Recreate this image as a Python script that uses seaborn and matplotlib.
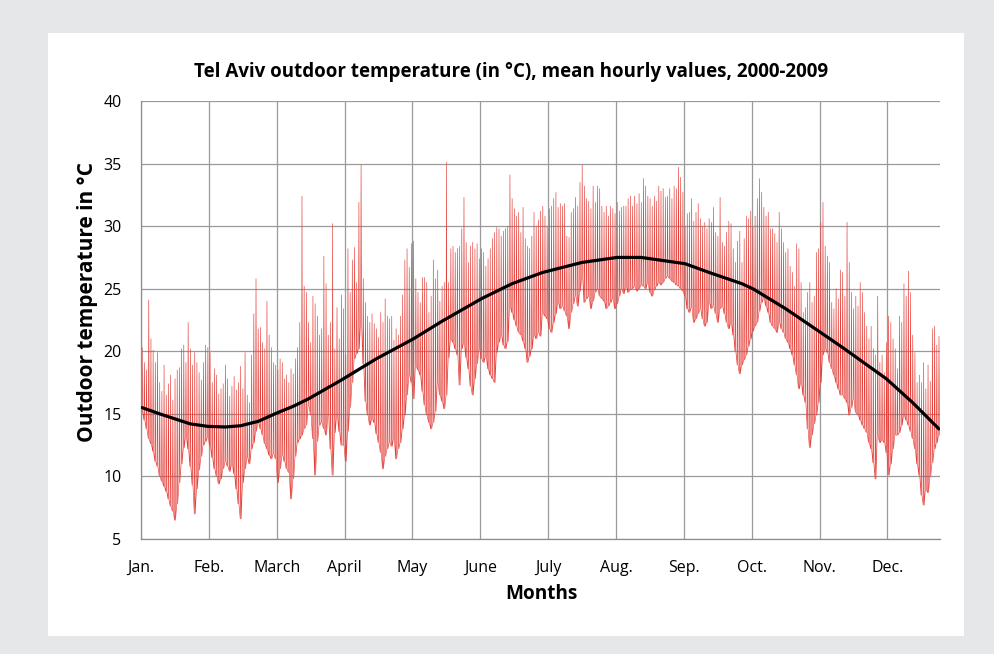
import numpy as np
import pandas as pd
import matplotlib
matplotlib.use('Agg')
import matplotlib.pyplot as plt
import seaborn as sns
from matplotlib.patches import Rectangle

sns.set_theme(style='white')
plt.rcParams['font.family'] = ['Open Sans', 'DejaVu Sans']
plt.rcParams['text.color'] = 'black'

MONTHS = ['Jan.', 'Feb.', 'March', 'April', 'May', 'June', 'July', 'Aug.', 'Sep.', 'Oct.', 'Nov.', 'Dec.']
MONTH_TICKS = [0, 744, 1488, 2232, 2976, 3720, 4464, 5208, 5952, 6696, 7440, 8184]
Y_TICKS = [5, 10, 15, 20, 25, 30, 35, 40]

# daily peaks (afternoon), Jan 1 .. Dec 31
daily_high = [
    20.3, 19.1, 18.5, 24.1, 21.0, 20.1, 19.1, 19.9, 17.5, 16.8, 18.9, 16.5, 17.4, 18.1, 16.1, 17.8,
    18.5, 18.7, 20.2, 20.5, 19.1, 22.3, 20.2, 18.9, 19.9, 19.1, 18.3, 17.7, 19.1, 20.5, 20.3, 19.9,
    17.5, 18.6, 18.1, 16.6, 17.0, 17.4, 18.9, 17.8, 16.4, 17.2, 18.0, 16.9, 17.5, 18.8,
    17.0, 19.9, 16.5, 15.9, 19.7, 23.0, 25.8, 21.8, 21.9, 20.7, 20.2, 24.0, 21.3, 20.3, 19.1, 18.9,
    18.5, 19.4, 19.1, 17.8, 18.1, 17.5, 18.6, 18.2, 19.4, 20.3, 22.3, 32.4, 25.2, 24.7, 22.3, 20.7,
    24.4, 23.8, 22.8, 21.3, 21.8, 27.6, 25.4, 21.3, 22.3, 30.2, 20.2, 23.5, 21.0, 24.5,
    23.4, 19.7, 28.2, 24.7, 27.3, 28.3, 25.5, 31.9, 34.9, 25.8, 23.9, 22.8, 22.3, 23.0, 22.2, 21.8,
    21.1, 23.1, 22.3, 24.2, 22.8, 22.6, 22.8, 20.9, 21.8, 21.3, 22.8, 24.5, 27.3, 28.2, 26.7, 28.6,
    28.8, 25.8, 24.7, 23.9, 25.9, 25.9, 25.5, 23.1, 24.4, 27.3, 25.8, 26.5, 24.0, 25.2,
    25.5, 35.1, 25.5, 28.2, 28.4, 27.9, 28.2, 28.4, 29.8, 32.3, 28.7, 27.1, 28.4, 28.7, 28.2, 28.6,
    27.4, 28.2, 27.9, 26.8, 27.4, 28.2, 29.0, 29.5, 29.9, 29.8, 29.2, 29.6, 29.8, 30.0, 34.1, 32.2,
    31.4, 30.8, 31.1, 29.5, 31.5, 29.0, 28.4, 28.2, 29.2, 31.1, 30.0, 30.5, 31.2,
    31.6, 30.8, 30.0, 31.4, 31.6, 32.2, 32.7, 31.5, 31.8, 31.6, 31.8, 29.2, 29.1, 31.1, 31.4, 32.3,
    31.6, 33.5, 34.9, 33.2, 32.2, 32.0, 31.4, 33.2, 31.9, 33.2, 33.0, 31.6, 31.1, 31.6, 30.8, 31.6,
    31.4, 31.0, 31.9, 31.2, 31.5, 31.6, 31.6, 32.2, 32.4, 31.6, 32.4, 31.8, 32.6, 31.9,
    33.8, 33.2, 32.4, 32.2, 31.6, 32.4, 32.0, 33.2, 32.8, 33.0, 32.3, 32.4, 33.0, 32.2, 33.2, 33.0,
    34.7, 33.9, 32.7, 30.0, 31.0, 31.1, 32.2, 30.4, 31.1, 31.8, 30.6, 30.0, 30.3, 29.8, 30.6, 30.3,
    31.5, 29.5, 29.2, 32.3, 28.7, 28.4, 29.5, 30.4, 30.2, 28.2, 27.1, 28.8, 29.6,
    27.1, 29.0, 30.8, 30.6, 31.2, 30.0, 30.8, 32.2, 33.8, 32.7, 31.5, 30.8, 31.1, 29.8, 29.8, 29.4,
    28.7, 31.1, 29.8, 28.7, 27.9, 28.2, 26.8, 26.3, 25.2, 28.6, 28.2, 25.5, 23.1, 23.5, 24.7, 25.5,
    23.9, 24.4, 27.9, 28.2, 30.3, 31.9, 28.4, 27.6, 27.1, 23.9, 23.4, 25.0, 24.2, 26.5,
    26.3, 24.4, 30.3, 27.1, 24.7, 23.4, 24.4, 23.6, 25.5, 24.7, 23.1, 22.0, 21.0, 22.0, 20.2, 19.7,
    24.4, 19.1, 19.7, 18.3, 20.7, 22.8, 22.3, 21.0, 20.2, 18.6, 22.8, 22.3, 25.4, 24.4, 26.4, 24.7,
    21.3, 19.9, 17.5, 18.1, 17.5, 19.1, 17.0, 18.9, 17.6, 21.8, 22.0, 20.5, 21.2,
]

# daily lows (night), same days
daily_low = [
    15.2, 14.5, 13.8, 13.0, 12.6, 12.0, 11.2, 10.8, 10.0, 9.6, 9.2, 8.8, 8.2, 7.6, 7.2, 6.5,
    7.8, 9.5, 11.0, 12.3, 13.2, 12.2, 10.8, 9.3, 7.0, 9.0, 10.5, 11.6, 12.5, 12.8, 13.1, 12.4,
    11.5, 10.6, 10.0, 9.4, 9.8, 10.6, 11.2, 10.8, 10.4, 11.0, 10.2, 9.0, 7.8, 6.6,
    9.5, 10.6, 11.5, 11.0, 12.2, 12.7, 13.6, 14.3, 13.8, 13.3, 12.6, 12.2, 11.7, 11.4, 11.8, 11.4,
    9.5, 10.6, 11.7, 11.2, 10.6, 10.3, 8.2, 9.8, 11.6, 12.7, 13.0, 13.3, 13.8, 14.1, 15.7, 14.9,
    13.0, 10.1, 12.8, 14.1, 14.3, 13.8, 13.3, 14.9, 12.2, 10.1, 13.5, 14.9, 13.6, 12.5,
    12.5, 11.2, 13.6, 15.5, 17.5, 19.4, 19.8, 20.2, 22.5, 19.0, 16.0, 14.9, 14.1, 14.6, 14.3, 13.4,
    12.7, 11.9, 10.6, 11.6, 12.2, 12.7, 12.4, 13.0, 11.4, 12.2, 12.7, 13.8, 14.9, 16.5, 18.1, 17.5,
    16.2, 18.9, 18.5, 18.1, 16.8, 15.7, 14.9, 14.3, 13.8, 14.3, 15.2, 17.5, 16.5, 16.0,
    15.4, 16.5, 19.5, 21.0, 20.7, 20.2, 19.7, 17.3, 20.2, 20.7, 19.5, 18.6, 17.2, 16.5, 17.8, 19.0,
    20.2, 19.4, 19.1, 19.6, 18.6, 18.1, 17.8, 17.5, 19.9, 20.7, 21.3, 20.5, 20.2, 20.8, 23.6, 23.1,
    22.5, 22.0, 21.5, 21.3, 20.8, 20.2, 19.1, 19.6, 20.2, 21.3, 21.0, 21.5, 21.2,
    23.1, 22.8, 22.6, 21.8, 21.5, 22.3, 23.0, 23.9, 23.4, 23.6, 23.2, 22.8, 21.8, 23.1, 23.8, 24.4,
    23.6, 24.8, 26.0, 23.9, 24.2, 24.4, 23.4, 24.0, 24.7, 25.0, 24.4, 24.2, 24.0, 23.4, 23.6, 23.9,
    24.2, 23.4, 23.8, 24.4, 25.0, 24.6, 25.2, 24.7, 24.9, 25.0, 25.2, 24.8, 25.0, 25.3,
    25.2, 25.0, 25.5, 24.7, 24.4, 24.9, 25.2, 25.5, 25.3, 25.5, 25.8, 26.0, 25.8, 25.6, 25.5, 25.3,
    25.2, 25.0, 24.8, 24.4, 23.4, 23.1, 23.5, 22.3, 22.6, 23.0, 23.4, 22.6, 22.0, 22.3, 23.9, 23.4,
    23.6, 23.0, 22.3, 23.4, 23.6, 23.0, 22.3, 21.8, 22.3, 21.3, 20.0, 18.9, 18.2,
    18.9, 19.3, 19.7, 20.4, 21.0, 21.6, 22.0, 22.3, 23.2, 23.9, 24.2, 23.6, 23.1, 22.3, 22.0, 21.8,
    21.5, 22.3, 21.8, 21.5, 21.0, 20.7, 20.2, 19.7, 18.9, 18.1, 17.0, 17.5, 16.5, 15.9, 13.8, 12.3,
    13.3, 14.2, 14.9, 15.9, 17.5, 19.7, 20.2, 19.9, 19.1, 18.6, 18.1, 17.5, 17.0, 16.5,
    16.5, 16.2, 15.9, 14.9, 15.5, 16.2, 15.1, 14.9, 14.5, 14.1, 13.8, 13.5, 12.7, 12.2, 11.1, 9.8,
    13.3, 12.7, 12.9, 12.7, 11.9, 10.1, 11.0, 12.2, 13.3, 13.3, 13.5, 14.1, 14.9, 14.5, 14.1, 13.6,
    13.0, 12.2, 11.0, 10.1, 8.5, 7.7, 9.0, 8.7, 10.0, 11.1, 12.2, 12.7, 13.3,
]

# smooth seasonal mean (black curve), day of year -> deg C
trend_day = [0, 8, 15, 22, 30, 38, 45, 53, 62, 69, 76, 91, 107, 124, 137, 155, 169, 183, 201, 217,
             228, 248, 259, 274, 279, 294, 310, 320, 340, 352, 364]
trend_temp = [15.5, 15.0, 14.6, 14.2, 14.0, 13.95, 14.05, 14.4, 15.1, 15.6, 16.2, 17.7, 19.4, 21.0,
              22.4, 24.2, 25.4, 26.3, 27.1, 27.5, 27.5, 27.0, 26.3, 25.4, 25.0, 23.4, 21.5, 20.3,
              17.8, 15.9, 13.8]

# each day: night low -> afternoon peak -> back to the night low
n = min(len(daily_high), len(daily_low))
days = np.arange(n)
low = np.array(daily_low[:n])
high = np.array(daily_high[:n])
hourly = pd.DataFrame({
    'hour': np.column_stack([days * 24 + 8, days * 24 + 13, days * 24 + 18]).ravel(),
    'temp': np.column_stack([low, high, low]).ravel(),
})
trend = pd.DataFrame({'hour': np.array(trend_day) * 24 + 12, 'temp': trend_temp})

fig = plt.figure(figsize=(9.94, 6.54), dpi=100)
fig.patch.set_facecolor('#e6e7e9')
fig.patches.append(Rectangle((48 / 994, 1 - 636 / 654), (964 - 48) / 994, (636 - 33) / 654,
                             transform=fig.transFigure, facecolor='white', edgecolor='none', zorder=-5))
ax = fig.add_axes([141 / 994, 1 - 539 / 654, (940 - 141) / 994, (539 - 101) / 654])
ax.set_zorder(2)
ax.set_facecolor('white')

sns.lineplot(data=hourly, x='hour', y='temp', ax=ax, sort=False, estimator=None,
             color='#e4403a', linewidth=0.45, zorder=2)
sns.lineplot(data=trend, x='hour', y='temp', ax=ax, sort=False, estimator=None,
             color='black', linewidth=2.3, zorder=3)

ax.set_xlim(0, 8760)
ax.set_ylim(5, 40)
ax.set_xticks(MONTH_TICKS)
ax.set_xticklabels(MONTHS)
ax.set_yticks(Y_TICKS)
ax.grid(True, color='#9a9a9a', linewidth=0.9)
ax.set_axisbelow(True)
for side in ['top', 'right']:
    ax.spines[side].set_visible(False)
for side in ['left', 'bottom']:
    ax.spines[side].set_color('#8c8c8c')
    ax.spines[side].set_linewidth(0.9)
ax.tick_params(axis='both', which='major', length=5, width=0.9, color='#8c8c8c',
               labelsize=11.5, labelcolor='black', direction='out')
ax.tick_params(axis='x', pad=10)
ax.tick_params(axis='y', pad=9)
ax.set_xlabel('')
ax.set_ylabel('')

fig.text(511 / 994, 1 - 72 / 654, 'Tel Aviv outdoor temperature (in °C), mean hourly values, 2000-2009',
         ha='center', va='center', fontsize=13.5, fontweight='bold', color='black')
fig.text(88 / 994, 1 - 302 / 654, 'Outdoor temperature in °C', rotation=90,
         ha='center', va='center', fontsize=15, fontweight='bold', color='black')
fig.text(541 / 994, 1 - 594 / 654, 'Months', ha='center', va='center', fontsize=13.7,
         fontweight='bold', color='black')

fig.savefig('out.png', dpi=100, facecolor=fig.get_facecolor())
